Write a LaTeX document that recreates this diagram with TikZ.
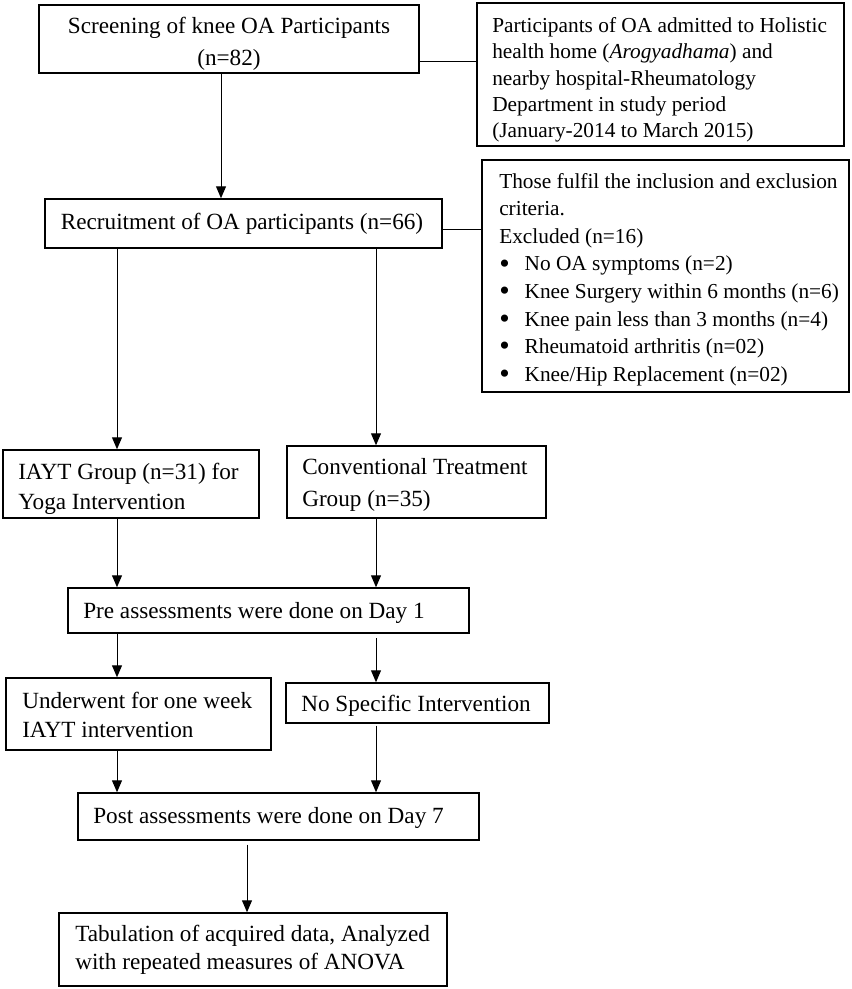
\documentclass[tikz,border=0pt]{standalone}
\usepackage{fontspec}
\usepackage{graphicx}
\setmainfont{Liberation Serif}
\usetikzlibrary{arrows.meta}
\newcommand\myfs[1]{\fontsize{17.4}{#1}\selectfont}
\newcommand\smfs[1]{\fontsize{16}{#1}\selectfont}
\newcommand\blt{\makebox[19pt][l]{\hspace{0pt}\raisebox{-0.1em}{\scalebox{1.4}{\textbullet}}}}
\begin{document}
\begin{tikzpicture}[x=0.75pt,y=-0.75pt,
  box/.style={draw, line width=1.1pt, inner sep=0pt},
  txt/.style={inner sep=0pt, align=left, anchor=west},
  ctxt/.style={inner sep=0pt, align=center},
  arr/.style={line width=0.75pt, -{Triangle[length=9pt,width=7.5pt]}},
  ln/.style={line width=0.75pt}]
\useasboundingbox (0,0) rectangle (851,989);
% columns / rows for connectors
\coordinate (colA) at (221,0);
\coordinate (colL) at (117,0);
\coordinate (colR) at (376,0);
\coordinate (colQ) at (247,0);
\coordinate (yAB) at (0,61);
\coordinate (yRC) at (0,229);
% boxes
\node[box, minimum width=285pt, minimum height=51pt] (A) at (229,39) {};
\node[ctxt, font=\myfs{24pt}] (At) at (229,44) {Screening of knee OA Participants\\(n=82)};
\node[box, minimum width=275.25pt, minimum height=107.25pt] (B) at (660.5,74.5) {};
\node[txt, font=\smfs{19.7pt}] (Bt) at (492,80) {Participants of OA admitted to Holistic\\health home (\textit{Arogyadhama}) and\\nearby hospital-Rheumatology\\Department in study period\\(January-2014 to March 2015)};
\node[box, minimum width=297.75pt, minimum height=36.75pt] (R) at (243.5,223.5) {};
\node[ctxt, font=\myfs{20pt}] (Rt) at (242,224) {Recruitment of OA participants (n=66)};
\node[box, minimum width=275.25pt, minimum height=174pt] (C) at (665.5,276) {};
\node[txt, font=\smfs{20.7pt}] (Ct) at (499,279.5) {Those fulfil the inclusion and exclusion\\criteria.\\Excluded (n=16)\\\blt No OA symptoms (n=2)\\\blt Knee Surgery within 6 months (n=6)\\\blt Knee pain less than 3 months (n=4)\\\blt Rheumatoid arthritis (n=02)\\\blt Knee/Hip Replacement (n=02)};
\node[box, minimum width=192pt, minimum height=51pt] (I) at (131,484) {};
\node[txt, font=\myfs{22.5pt}] (It) at (18,489) {IAYT Group (n=31) for\\Yoga Intervention};
\node[box, minimum width=194.25pt, minimum height=54pt] (V) at (416.5,482) {};
\node[txt, font=\myfs{24pt}] (Vt) at (302,485) {Conventional Treatment\\Group (n=35)};
\node[box, minimum width=300.75pt, minimum height=33.75pt] (P) at (268.5,610.5) {};
\node[txt, font=\myfs{20pt}] (Pt) at (83,612.5) {Pre assessments were done on Day 1};
\node[box, minimum width=198.75pt, minimum height=54pt] (U) at (138.5,714) {};
\node[txt, font=\myfs{22pt}] (Ut) at (22,715) {Underwent for one week\\IAYT intervention};
\node[box, minimum width=197.25pt, minimum height=30pt] (N) at (417.5,703) {};
\node[ctxt, font=\myfs{20pt}] (Nt) at (416,705.5) {No Specific Intervention};
\node[box, minimum width=300.75pt, minimum height=35.25pt] (Q) at (278.5,816.5) {};
\node[txt, font=\myfs{20pt}] (Qt) at (93,817.5) {Post assessments were done on Day 7};
\node[box, minimum width=291pt, minimum height=54.75pt] (T) at (253,949.5) {};
\node[txt, font=\myfs{21pt}] (Tt) at (75,950) {Tabulation of acquired data, Analyzed\\with repeated measures of ANOVA};
% connectors
\draw[ln] (A.east |- yAB) -- (B.west |- yAB);
\draw[arr] (A.south -| colA) -- (R.north -| colA);
\draw[ln] (R.east |- yRC) -- (C.west |- yRC);
\draw[arr] (R.south -| colL) -- (I.north -| colL);
\draw[arr] (R.south -| colR) -- (V.north -| colR);
\draw[arr] (I.south -| colL) -- (P.north -| colL);
\draw[arr] (V.south -| colR) -- (P.north -| colR);
\draw[arr] (P.south -| colL) -- (U.north -| colL);
\draw[arr, shorten <=3.5pt] (P.south -| colR) -- (N.north -| colR);
\draw[arr] (U.south -| colL) -- (Q.north -| colL);
\draw[arr, shorten <=1.5pt] (N.south -| colR) -- (Q.north -| colR);
\draw[arr, shorten <=3pt] (Q.south -| colQ) -- (T.north -| colQ);
\end{tikzpicture}
\end{document}
